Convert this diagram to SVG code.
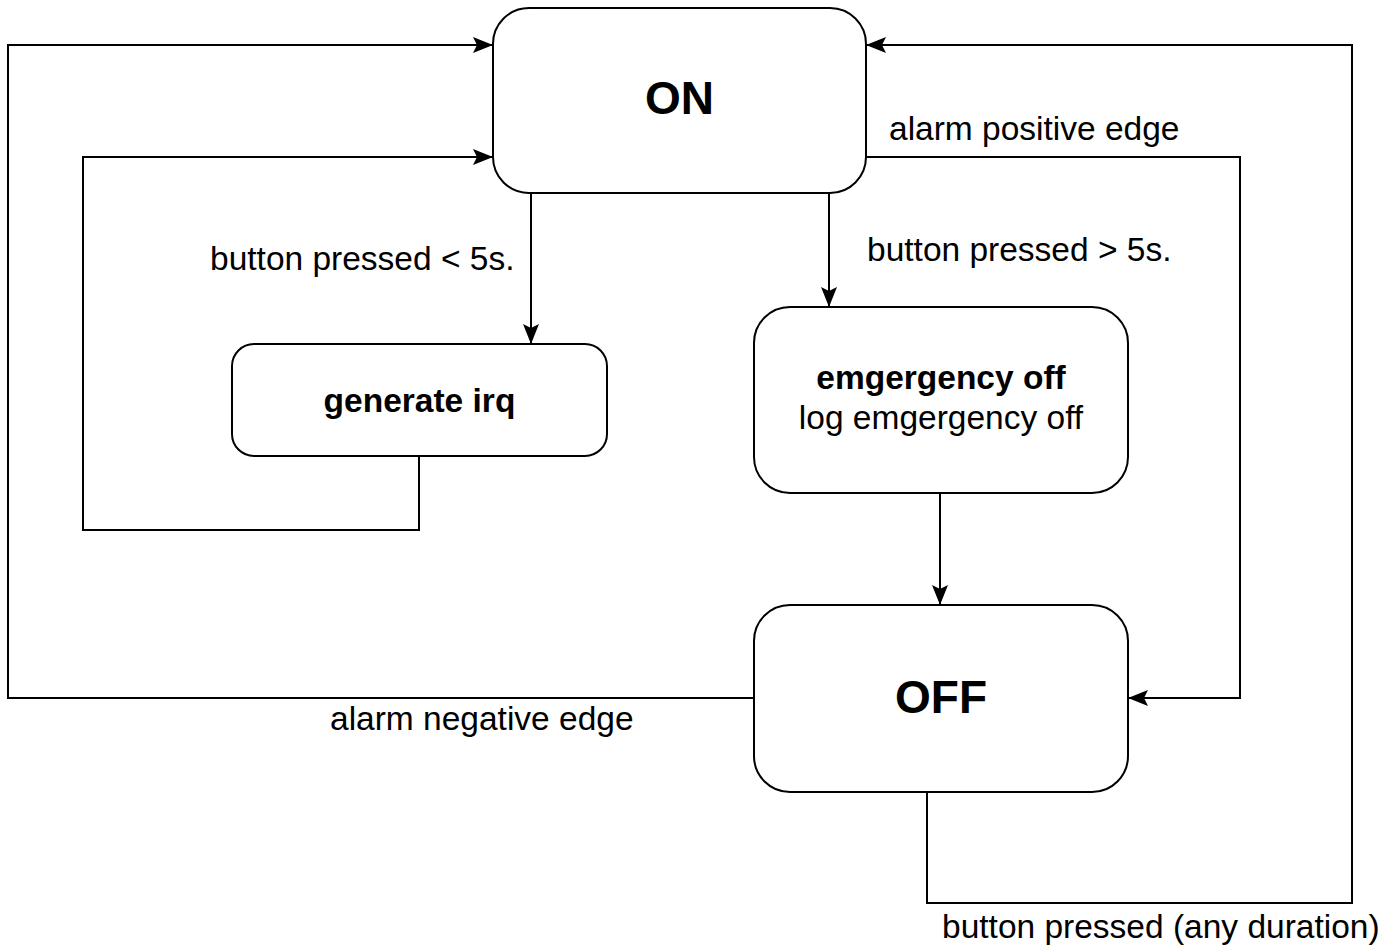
<svg xmlns="http://www.w3.org/2000/svg" width="1392" height="947" viewBox="0 0 1392 947">
<style>
.box{fill:#fff;stroke:#000;stroke-width:2}
.ln{fill:none;stroke:#000;stroke-width:2}
.t{font-family:"Liberation Sans",Arial,Helvetica,sans-serif;font-size:33.5px;fill:#000}
.b{font-weight:bold}
.big{font-size:46px}
</style>
<defs>
<marker id="ah" viewBox="0 0 20 18" refX="19" refY="9" markerWidth="20" markerHeight="18" markerUnits="userSpaceOnUse" orient="auto">
<path d="M0,1 L20,9 L0,17 L4,9 Z" fill="#000"/>
</marker>
</defs>
<rect width="1392" height="947" fill="#fff"/>
<g id="connectors">
<path class="ln" d="M531,193 V343" marker-end="url(#ah)"/>
<path class="ln" d="M829,193 V306" marker-end="url(#ah)"/>
<path class="ln" d="M940,493 V604" marker-end="url(#ah)"/>
<path class="ln" d="M419,456 V530 H83 V157 H492" marker-end="url(#ah)"/>
<path class="ln" d="M754,698 H8 V45 H492" marker-end="url(#ah)"/>
<path class="ln" d="M866,157 H1240 V698 H1129" marker-end="url(#ah)"/>
<path class="ln" d="M927,792 V903 H1352 V45 H867" marker-end="url(#ah)"/>
<text class="t" x="210" y="270">button pressed &lt; 5s.</text>
<text class="t" x="867" y="261">button pressed &gt; 5s.</text>
<text class="t" x="889" y="140">alarm positive edge</text>
<text class="t" x="330" y="730">alarm negative edge</text>
<text class="t" x="942" y="938">button pressed (any duration)</text>
</g>
<g id="on">
<rect class="box" x="493" y="8" width="373" height="185" rx="36" ry="36"/>
<text class="t b big" x="679.5" y="114" text-anchor="middle">ON</text>
</g>
<g id="generate-irq">
<rect class="box" x="232" y="344" width="375" height="112" rx="22" ry="22"/>
<text class="t b" x="419.5" y="412" text-anchor="middle">generate irq</text>
</g>
<g id="emergency-off">
<rect class="box" x="754" y="307" width="374" height="186" rx="36" ry="36"/>
<text class="t b" x="941" y="389" text-anchor="middle">emgergency off</text>
<text class="t" x="941" y="429" text-anchor="middle">log emgergency off</text>
</g>
<g id="off">
<rect class="box" x="754" y="605" width="374" height="187" rx="36" ry="36"/>
<text class="t b big" x="941" y="713" text-anchor="middle">OFF</text>
</g>
</svg>
